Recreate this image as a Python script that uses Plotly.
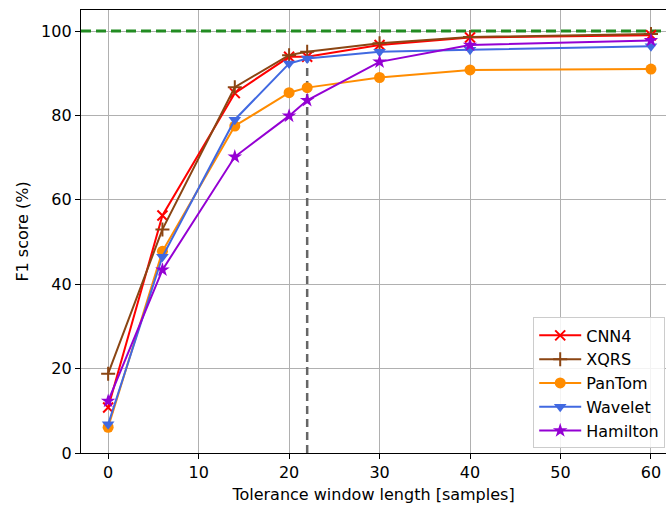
import plotly.graph_objects as go

x_vals = [0, 6, 14, 20, 22, 30, 40, 60]
cnn4 = [10.8, 56.3, 85.3, 93.9, 93.9, 96.7, 98.5, 99.0]
xqrs = [18.8, 53.0, 86.7, 94.3, 95.1, 97.1, 98.6, 99.3]
pantom = [6.1, 47.8, 77.5, 85.4, 86.6, 89.0, 90.8, 91.0]
wavelet = [6.8, 46.5, 79.0, 92.3, 93.5, 95.1, 95.6, 96.4]
hamilton = [12.3, 43.4, 70.2, 79.9, 83.6, 92.7, 96.7, 97.8]

ref_level = 100
chosen_window = 22

series = [
    ("CNN4", cnn4, "#ff0000", "x-thin-open", 10),
    ("XQRS", xqrs, "#8b4513", "cross-thin-open", 10),
    ("PanTom", pantom, "#ff8c00", "circle", 11),
    ("Wavelet", wavelet, "#4169e1", "triangle-down", 11),
    ("Hamilton", hamilton, "#9400d3", "star", 11),
]

FONT = "DejaVu Sans"
fig = go.Figure()

# reference lines
fig.add_trace(go.Scatter(x=[-3, 63], y=[ref_level, ref_level], mode="lines",
                         line=dict(color="#228b22", width=3, dash="10px,5px"),
                         showlegend=False, hoverinfo="skip"))
fig.add_trace(go.Scatter(x=[chosen_window, chosen_window],
                         y=[0, xqrs[x_vals.index(chosen_window)]], mode="lines",
                         line=dict(color="#666666", width=2.5, dash="8px,5px"),
                         showlegend=False, hoverinfo="skip"))

for name, ys, color, sym, size in series:
    open_sym = sym.endswith("open")
    fig.add_trace(go.Scatter(
        x=x_vals, y=ys, name=name, mode="lines+markers",
        line=dict(color=color, width=2),
        marker=dict(symbol=sym, size=size, color=color,
                    line=dict(color=color, width=2 if open_sym else 0)),
    ))

fig.update_layout(
    width=666, height=508,
    margin=dict(l=81, r=0, t=10, b=55),
    paper_bgcolor="white", plot_bgcolor="white",
    font=dict(family=FONT, size=16, color="black"),
    legend=dict(
        x=0.773, y=0.306, xanchor="left", yanchor="top",
        bgcolor="rgba(255,255,255,0.85)", bordercolor="#cccccc", borderwidth=1,
        font=dict(family=FONT, size=16, color="black"),
        tracegroupgap=0, itemwidth=42,
    ),
)
fig.update_xaxes(
    range=[-3, 61.66], tickmode="array", tickvals=[0, 10, 20, 30, 40, 50, 60],
    showgrid=True, gridcolor="#b0b0b0", gridwidth=1.3,
    showline=True, linecolor="black", linewidth=1.3, mirror=True,
    ticks="outside", ticklen=5, tickcolor="black", tickwidth=1.2,
    zeroline=False, automargin=False,
    title=dict(text="Tolerance window length [samples]", font=dict(size=16), standoff=7),
    tickfont=dict(size=16),
)
fig.update_yaxes(
    range=[0, 105], tickmode="array", tickvals=[0, 20, 40, 60, 80, 100],
    showgrid=True, gridcolor="#b0b0b0", gridwidth=1.3,
    showline=True, linecolor="black", linewidth=1.3, mirror=False,
    ticks="outside", ticklen=5, tickcolor="black", tickwidth=1.2,
    zeroline=False, automargin=False,
    title=dict(text="F1 score (%)", font=dict(size=16), standoff=8),
    tickfont=dict(size=16),
)

fig.write_html(
    "out.html",
    config={"displayModeBar": False},
    post_script="document.body.style.margin='0';document.body.style.padding='0';"
                "document.body.style.overflow='hidden';",
)
